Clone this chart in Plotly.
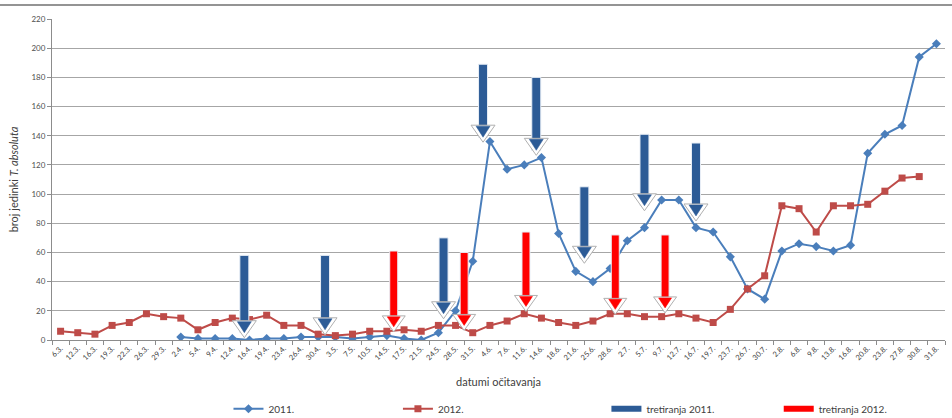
import plotly.graph_objects as go

dates = ["6.3.", "12.3.", "16.3.", "19.3.", "22.3.", "26.3.", "29.3.", "2.4.", "5.4.", "9.4.",
         "12.4.", "16.4.", "19.4.", "23.4.", "26.4.", "30.4.", "3.5.", "7.5.", "10.5.", "14.5.",
         "17.5.", "21.5.", "24.5.", "28.5.", "31.5.", "4.6.", "7.6.", "11.6.", "14.6.", "18.6.",
         "21.6.", "25.6.", "28.6.", "2.7.", "5.7.", "9.7.", "12.7.", "16.7.", "19.7.", "23.7.",
         "26.7.", "30.7.", "2.8.", "6.8.", "9.8.", "13.8.", "16.8.", "20.8.", "23.8.", "27.8.",
         "30.8.", "31.8."]

y2011 = [None, None, None, None, None, None, None,
         2, 1, 1, 1, 0, 1, 1, 2, 2, 2, 1, 2, 3, 1, 0, 5, 20, 54,
         136, 117, 120, 125, 73, 47, 40, 49, 68, 77, 96, 96, 77, 74, 57, 35,
         28, 61, 66, 64, 61, 65, 128, 141, 147, 194, 203]

y2012 = [6, 5, 4, 10, 12, 18, 16, 15, 7, 12, 15, 14, 17, 10, 10, 4, 3, 4, 6, 6,
         7, 6, 10, 10, 5, 10, 13, 18, 15, 12, 10, 13, 18, 18, 16, 16, 18, 15, 12, 21,
         35, 44, 92, 90, 74, 92, 92, 93, 102, 111, 112, None]

# treatments: position on the date axis (category index), arrow top value, arrow tip value
tret2011_pos = [10.7, 15.4, 22.3, 24.6, 27.7, 30.5, 34.0, 37.0]
tret2011_top = [58, 58, 70, 189, 180, 105, 141, 135]
tret2011_tip = [5, 7, 18, 139, 130, 56, 92, 85]

tret2012_pos = [19.4, 23.5, 27.1, 32.3, 35.2]
tret2012_top = [61, 60, 74, 72, 72]
tret2012_tip = [9, 10, 23, 21, 22]

BLUE = "#4a7ebb"
RED = "#be4b48"
ARROW_BLUE = "#2c5b96"
ARROW_RED = "#ff0000"
FONT = "Lato"

fig = go.Figure()
fig.add_trace(go.Scatter(x=dates, y=y2011, name="2011.", mode="lines+markers",
                         line=dict(color=BLUE, width=2),
                         marker=dict(symbol="diamond", size=7, color=BLUE),
                         connectgaps=False, legend="legend"))
fig.add_trace(go.Scatter(x=dates, y=y2012, name="2012.", mode="lines+markers",
                         line=dict(color=RED, width=2),
                         marker=dict(symbol="square", size=7, color=RED), legend="legend2"))
fig.add_trace(go.Scatter(x=[None], y=[None], name="tretiranja 2011.", mode="lines",
                         line=dict(color=ARROW_BLUE, width=6), legend="legend3"))
fig.add_trace(go.Scatter(x=[None], y=[None], name="tretiranja 2012.", mode="lines",
                         line=dict(color=ARROW_RED, width=6), legend="legend4"))

shapes = []


def add_arrow(pos, top, tip, color, half_w, head_half, head_h):
    # shaft
    shapes.append(dict(type="rect", xref="x", yref="y", xsizemode="pixel", xanchor=pos,
                       x0=-half_w, x1=half_w, y0=tip, y1=top,
                       fillcolor=color, line=dict(color="#e8eef6", width=1), layer="above"))
    # white bevelled chevron
    shapes.append(dict(type="path", xref="x", yref="y", xsizemode="pixel", ysizemode="pixel",
                       xanchor=pos, yanchor=tip,
                       path=f"M {-head_half-5},{head_h+1} L {head_half+5},{head_h+1} L 0,-5 Z",
                       fillcolor="white", line=dict(color="#b0b0b0", width=1), layer="above"))
    # dark head
    shapes.append(dict(type="path", xref="x", yref="y", xsizemode="pixel", ysizemode="pixel",
                       xanchor=pos, yanchor=tip,
                       path=f"M {-head_half},{head_h} L {head_half},{head_h} L 0,0 Z",
                       fillcolor=color, line=dict(color=color, width=0.5), layer="above"))


for p, t, b in zip(tret2011_pos, tret2011_top, tret2011_tip):
    add_arrow(p, t, b, ARROW_BLUE, 4.5, 7, 11)
for p, t, b in zip(tret2012_pos, tret2012_top, tret2012_tip):
    add_arrow(p, t, b, ARROW_RED, 4, 6.5, 10)

# top frame line
shapes.append(dict(type="line", xref="paper", yref="paper", x0=-0.06, x1=1.01,
                   y0=1.044, y1=1.044, line=dict(color="#707070", width=1.5)))


def legend_box(xc):
    return dict(orientation="h", xref="container", yref="container",
                x=xc, xanchor="left", y=0.022, yanchor="middle",
                font=dict(size=10, color="#404040"),
                bgcolor="rgba(0,0,0,0)", borderwidth=0)


fig.update_layout(
    width=952, height=418,
    margin=dict(l=52, r=7, t=19, b=78),
    paper_bgcolor="white", plot_bgcolor="white",
    font=dict(family=FONT, color="#404040"),
    shapes=shapes,
    showlegend=True,
    legend=legend_box(0.240),
    legend2=legend_box(0.418),
    legend3=legend_box(0.637),
    legend4=legend_box(0.818),
    xaxis=dict(type="category", categoryorder="array", categoryarray=dates,
               tickangle=-45, tickfont=dict(size=7.5, color="#404040"),
               showgrid=False, showline=True, linecolor="#8c8c8c", linewidth=1,
               ticks="outside", ticklen=4, tickcolor="#8c8c8c", tickson="boundaries",
               range=[-0.5, 51.5],
               title=dict(text="datumi očitavanja", font=dict(size=11, color="#404040"),
                          standoff=17)),
    yaxis=dict(range=[0, 220], dtick=20, tickfont=dict(size=8, color="#505050"),
               showgrid=True, gridcolor="#a6a6a6", gridwidth=1,
               showline=True, linecolor="#8c8c8c", linewidth=1,
               ticks="outside", ticklen=4, tickcolor="#8c8c8c",
               zeroline=False,
               title=dict(text="broj jedinki <i>T. absoluta</i>",
                          font=dict(size=11, color="#404040"), standoff=10)),
)

fig.write_html("out.html", config={"displayModeBar": False},
               post_script="document.body.style.margin='0';")
